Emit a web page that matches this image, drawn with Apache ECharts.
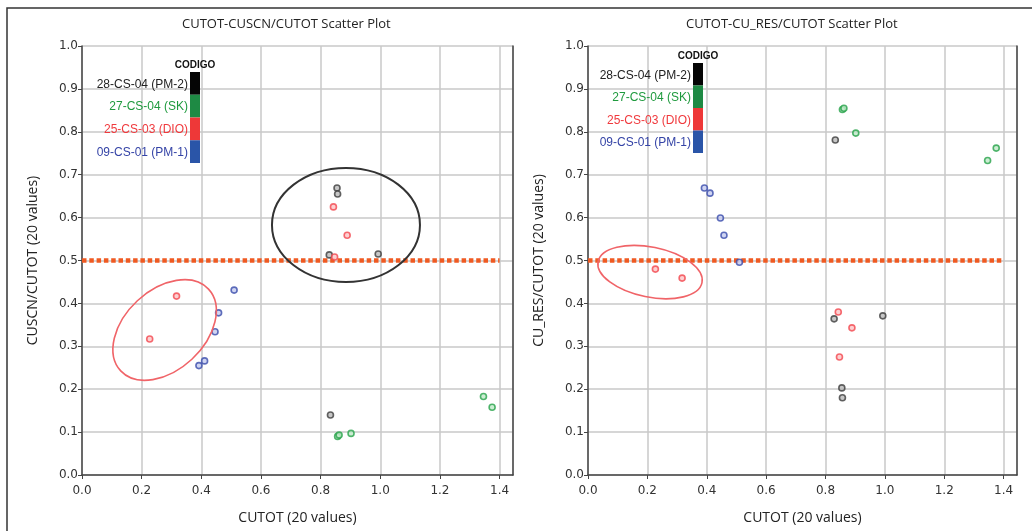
<!DOCTYPE html>
<html>
<head>
<meta charset="utf-8">
<title>CUTOT scatter plots</title>
<script src="https://cdn.jsdelivr.net/npm/echarts@6/dist/echarts.min.js"></script>
<style>
  body { margin: 0; background: #fff; }
  #main { width: 1032px; height: 531px; }
</style>
</head>
<body>
<div id="main"></div>
<script type="text/javascript">
// data (x = CUTOT is shared)
var groups = ['28-CS-04 (PM-2)', '27-CS-04 (SK)', '25-CS-03 (DIO)', '09-CS-01 (PM-1)'];

var pm2X     = [0.855, 0.857, 0.829, 0.993, 0.833];
var pm2Cuscn = [0.669, 0.655, 0.513, 0.515, 0.140];
var pm2CuRes = [0.203, 0.180, 0.364, 0.371, 0.781];

var skX      = [0.857, 0.862, 0.902, 1.346, 1.375];
var skCuscn  = [0.090, 0.093, 0.097, 0.183, 0.158];
var skCuRes  = [0.852, 0.855, 0.797, 0.733, 0.762];

var dioX     = [0.227, 0.317, 0.843, 0.889, 0.847];
var dioCuscn = [0.317, 0.417, 0.625, 0.559, 0.508];
var dioCuRes = [0.480, 0.459, 0.380, 0.343, 0.275];

var pm1X     = [0.392, 0.411, 0.446, 0.458, 0.510];
var pm1Cuscn = [0.255, 0.266, 0.334, 0.378, 0.431];
var pm1CuRes = [0.669, 0.657, 0.599, 0.559, 0.496];

var refX = [0, 1.4];
var refY = [0.5, 0.5];

// colours
var ringColors = ['#3d3d3d', '#27a24a', '#f2474f', '#3a4cab'];
var fillColors = ['#b9b9b9', '#bfe8c8', '#fcc4c6', '#c4cbef'];
var textColors = ['#222222', '#1f9a3e', '#f0393d', '#3443a6'];
var barColors  = ['#050505', '#1e8a44', '#ee3838', '#2a55a8'];

function zip(xs, ys) {
    return xs.map(function (x, i) { return [x, ys[i]]; });
}

var tickFont = { color: '#333', fontSize: 12, fontFamily: 'DejaVu Sans' };
var nameFont = { color: '#222', fontSize: 14, fontFamily: 'Open Sans' };

function xAxisFor(gi) {
    return {
        type: 'value', gridIndex: gi, min: 0, max: 1.445, interval: 0.2,
        name: 'CUTOT (20 values)', nameLocation: 'middle', nameGap: 36,
        nameTextStyle: nameFont,
        axisLine: { show: true, lineStyle: { color: '#444', width: 1.5 } },
        axisTick: { show: true, length: 4, lineStyle: { color: '#444' } },
        axisLabel: Object.assign({ margin: 10, showMaxLabel: false,
            formatter: function (v) { return v.toFixed(1); } }, tickFont),
        splitLine: { show: true, lineStyle: { color: '#c9c9c9', width: 1.5 } }
    };
}

function yAxisFor(gi, name) {
    return {
        type: 'value', gridIndex: gi, min: 0, max: 1, interval: 0.1,
        name: name, nameLocation: 'middle', nameGap: 42,
        nameTextStyle: nameFont,
        axisLine: { show: true, lineStyle: { color: '#444', width: 1.5 } },
        axisTick: { show: true, length: 4, lineStyle: { color: '#444' } },
        axisLabel: Object.assign({ margin: 4,
            formatter: function (v) { return v.toFixed(1); } }, tickFont),
        splitLine: { show: true, lineStyle: { color: '#c9c9c9', width: 1.5 } }
    };
}

// right-hand frame edge of each panel
function frameAxis(gi) {
    return {
        type: 'value', gridIndex: gi, min: 0, max: 1, position: 'right',
        axisLine: { show: true, lineStyle: { color: '#444', width: 1.5 } },
        axisTick: { show: false }, axisLabel: { show: false },
        splitLine: { show: false }
    };
}

function scatter(gi, data, k) {
    return {
        type: 'scatter', name: groups[k], xAxisIndex: gi, yAxisIndex: gi * 2,
        data: data, symbol: 'circle', symbolSize: 6,
        itemStyle: { color: fillColors[k], borderColor: ringColors[k], borderWidth: 1.6 }
    };
}

function refLine(gi) {
    return {
        type: 'line', xAxisIndex: gi, yAxisIndex: gi * 2,
        data: zip(refX, refY), symbol: 'none', z: 1,
        lineStyle: { color: '#ef5a22', width: 4.5, type: [4.5, 2.8], cap: 'butt' }
    };
}

var chart = echarts.init(document.getElementById('main'));
chart.setOption({
    animation: false,
    title: [
        { text: 'CUTOT-CUSCN/CUTOT Scatter Plot', left: 177, top: 13,
          textStyle: { fontSize: 13, fontWeight: 'normal', color: '#222', fontFamily: 'Open Sans' } },
        { text: 'CUTOT-CU_RES/CUTOT Scatter Plot', left: 681, top: 13,
          textStyle: { fontSize: 13, fontWeight: 'normal', color: '#222', fontFamily: 'Open Sans' } }
    ],
    grid: [
        { left: 82, right: 519, top: 46, bottom: 56 },
        { left: 588, right: 15, top: 46, bottom: 56 }
    ],
    xAxis: [xAxisFor(0), xAxisFor(1)],
    yAxis: [
        yAxisFor(0, 'CUSCN/CUTOT (20 values)'), frameAxis(0),
        yAxisFor(1, 'CU_RES/CUTOT (20 values)'), frameAxis(1)
    ],
    series: [
        refLine(0),
        scatter(0, zip(pm2X, pm2Cuscn), 0),
        scatter(0, zip(skX, skCuscn), 1),
        scatter(0, zip(dioX, dioCuscn), 2),
        scatter(0, zip(pm1X, pm1Cuscn), 3),
        refLine(1),
        scatter(1, zip(pm2X, pm2CuRes), 0),
        scatter(1, zip(skX, skCuRes), 1),
        scatter(1, zip(dioX, dioCuRes), 2),
        scatter(1, zip(pm1X, pm1CuRes), 3)
    ]
});

// legend boxes (colour bar with labels) and hand-drawn annotation ellipses
function legendBox(barX, barTop, segH, labelX, codigoY) {
    var els = [{
        type: 'text', x: barX + 5, y: codigoY,
        style: { text: 'CODIGO', fill: '#111', fontSize: 10, fontWeight: 'bold',
                 fontFamily: 'Liberation Sans', align: 'center', verticalAlign: 'middle' }
    }];
    groups.forEach(function (g, k) {
        els.push({
            type: 'rect', shape: { x: barX, y: barTop + k * segH, width: 10, height: segH },
            style: { fill: barColors[k] }
        });
        els.push({
            type: 'text', x: labelX, y: barTop + k * segH + segH / 2 + 1,
            style: { text: g, fill: textColors[k], fontSize: 12,
                     fontFamily: 'Liberation Sans', align: 'right', verticalAlign: 'middle' }
        });
    });
    return els;
}

function ellipse(gi, x, y, rx, ry, rot, color, w) {
    var p = chart.convertToPixel({ xAxisIndex: gi, yAxisIndex: gi * 2 }, [x, y]);
    return {
        type: 'ellipse', x: p[0], y: p[1], rotation: rot,
        shape: { cx: 0, cy: 0, rx: rx, ry: ry },
        style: { fill: null, stroke: color, lineWidth: w }, z: 10
    };
}

var graphics = [
    { type: 'polyline', shape: { points: [[7, 531], [7, 8], [1032, 8]] },
      style: { stroke: '#333', lineWidth: 1.5, fill: null } }
];
graphics = graphics.concat(legendBox(190, 72, 22.75, 188, 65));
graphics = graphics.concat(legendBox(693, 63, 22.5, 691, 56));
graphics.push(ellipse(0, 0.277, 0.338, 60, 40, 0.75, '#f06468', 1.6));
graphics.push(ellipse(0, 0.885, 0.583, 74, 57, 0, '#333', 2));
graphics.push(ellipse(1, 0.209, 0.473, 53, 25, -0.2, '#f06468', 1.6));

chart.setOption({ graphic: graphics });
</script>
</body>
</html>
